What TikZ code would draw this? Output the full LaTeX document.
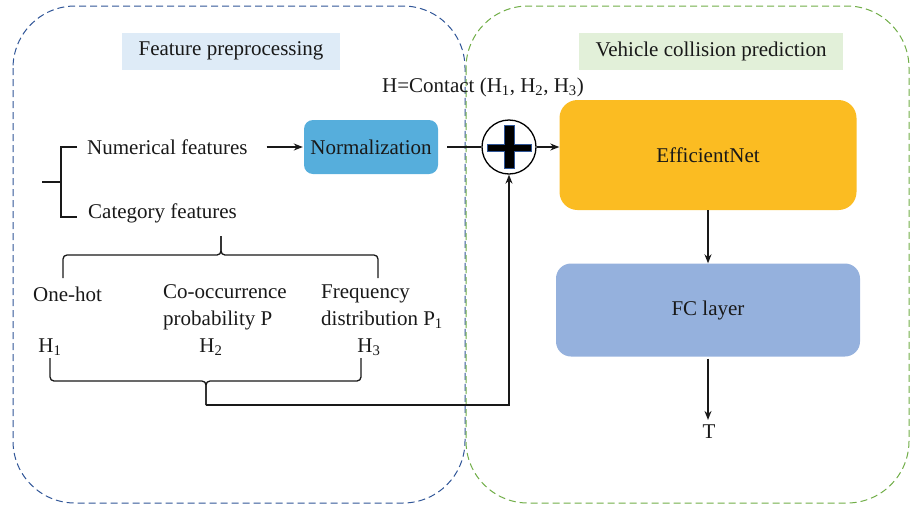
\documentclass[tikz,border=0pt]{standalone}
\usepackage{fontspec}
\setmainfont{Liberation Serif}
\usetikzlibrary{positioning, calc, arrows.meta}

\definecolor{preblue}{HTML}{2F5597}
\definecolor{predgreen}{HTML}{70AD47}
\definecolor{normblue}{HTML}{56AEDC}
\definecolor{effyellow}{HTML}{FBBC22}
\definecolor{fcblue}{HTML}{95B1DD}
\definecolor{titleblue}{HTML}{DEEBF7}
\definecolor{titlegreen}{HTML}{E2F0D9}

\begin{document}
\begin{tikzpicture}[x=1pt, y=-1pt,
    txt/.style={font=\fontsize{21}{27}\selectfont, inner sep=1pt, text=black!90},
    title/.style={txt, rectangle, minimum height=37pt, inner xsep=17pt},
    box/.style={txt, rectangle, rounded corners=16pt, align=center},
    panel/.style={dash pattern=on 7pt off 4pt, line width=1pt, rounded corners=62pt},
    line/.style={line width=1.3pt, black!90},
    arrow/.style={-{Stealth[length=9pt, width=7pt]}, line width=1.3pt, black!90},
    brace/.style={line width=1.3pt, black!90, rounded corners=4pt}
]
    \useasboundingbox (0,0) rectangle (912,509);

    % the two dashed panels
    \draw[panel, preblue] (13,6) rectangle (465,503);
    \draw[panel, predgreen] (466,6) rectangle (909,503);

    \node[title, fill=titleblue] (pretitle) at (231,51) {Feature preprocessing};
    \node[title, fill=titlegreen] (predtitle) at (711,51) {Vehicle collision prediction};

    % feature preprocessing
    \node[txt, anchor=west] (num) at (86,147) {Numerical features};
    \node[txt, anchor=west] (cat) at (87,213) {Category features};
    \node[box, fill=normblue, minimum width=134pt, minimum height=54pt, rounded corners=9pt] (norm) at (371,147) {Normalization};

    \draw[line] (42,182) -- (61,182);
    \draw[line] (77,147) -| (61,217) -- (77,217);
    \draw[arrow, shorten <=18pt, shorten >=1pt] (num.east) -- (norm.west);

    \coordinate (uptip) at (221,236);
    \draw[brace] (63,278) |- (uptip |- 0,255) -- (uptip);
    \draw[brace] (378,278) |- (uptip |- 0,255) -- (uptip);

    \node[txt, anchor=west] (onehot) at (32,294) {One-hot};
    \node[txt, anchor=west, align=left] (cooc) at (162,307) {Co-occurrence\\probability P};
    \node[txt, anchor=west, align=left] (freq) at (320,307) {Frequency\\distribution P\textsubscript{1}};

    \node[txt] (h1) at (50,347) {H\textsubscript{1}};
    \node[txt] (h2) at (211,347) {H\textsubscript{2}};
    \node[txt] (h3) at (369,347) {H\textsubscript{3}};

    \coordinate (lowtip) at (206,405);
    \draw[brace] (50,358) |- (lowtip |- 0,381) -- (lowtip);
    \draw[brace] (361,358) |- (lowtip |- 0,381) -- (lowtip);

    % fusion
    \node[circle, draw, line width=1.3pt, minimum size=54pt, inner sep=0pt] (plus) at (509,147) {};
    \draw[fill=black, draw=preblue, line width=0.8pt, shift={(plus.center)}]
        (-5,-22) -- (5,-22) -- (5,-3) -- (22,-3) -- (22,4) -- (5,4) -- (5,21)
        -- (-5,21) -- (-5,4) -- (-22,4) -- (-22,-3) -- (-5,-3) -- cycle;
    \node[txt] (contact) at (483,87) {H=Contact (H\textsubscript{1}, H\textsubscript{2}, H\textsubscript{3})};

    \draw[line, shorten <=9pt] (norm.east) -- (plus.west);
    \draw[arrow] (lowtip) -| (plus.south);

    % vehicle collision prediction
    \node[box, fill=effyellow, minimum width=297pt, minimum height=110pt, rounded corners=18pt] (effnet) at (708,155) {EfficientNet};
    \node[box, fill=fcblue, minimum width=304pt, minimum height=93pt, rounded corners=15pt] (fc) at (708,310) {FC layer};
    \node[txt] (out) at (709,432) {T};

    \draw[arrow] (plus.east) -- (plus.east -| effnet.west);
    \draw[arrow] (effnet.south) -- (fc.north);
    \draw[arrow, shorten <=2pt, shorten >=4pt] (fc.south) -- (fc.south |- out.north);
\end{tikzpicture}
\end{document}
